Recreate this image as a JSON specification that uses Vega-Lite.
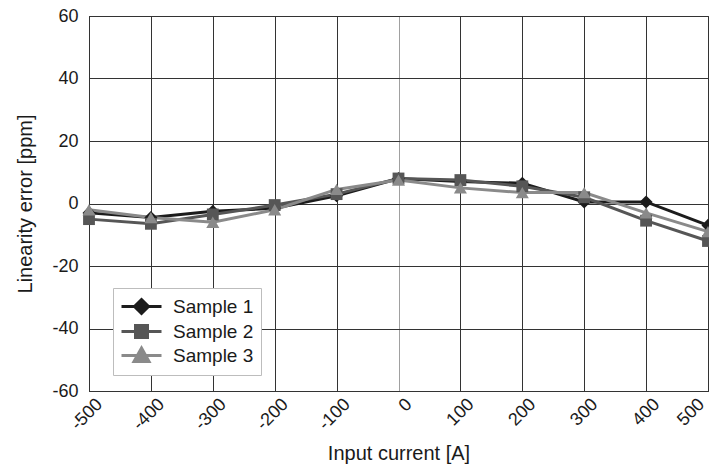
{
  "$schema": "https://vega.github.io/schema/vega-lite/v6.json",
  "autosize": "none",
  "width": 619,
  "height": 375,
  "padding": {"left": 89, "top": 16, "right": 1, "bottom": 77},
  "background": "white",
  "config": {
    "font": "Liberation Sans",
    "view": {"stroke": "#333333", "strokeWidth": 1}
  },
  "data": {
    "values": [
      {"current": -500, "error": -3, "sample": "Sample 1"},
      {"current": -400, "error": -4.5, "sample": "Sample 1"},
      {"current": -300, "error": -2.5, "sample": "Sample 1"},
      {"current": -200, "error": -1.5, "sample": "Sample 1"},
      {"current": -100, "error": 2.5, "sample": "Sample 1"},
      {"current": 0, "error": 8, "sample": "Sample 1"},
      {"current": 100, "error": 7, "sample": "Sample 1"},
      {"current": 200, "error": 6.5, "sample": "Sample 1"},
      {"current": 300, "error": 0.5, "sample": "Sample 1"},
      {"current": 400, "error": 0.5, "sample": "Sample 1"},
      {"current": 500, "error": -7, "sample": "Sample 1"},
      {"current": -500, "error": -5, "sample": "Sample 2"},
      {"current": -400, "error": -6.5, "sample": "Sample 2"},
      {"current": -300, "error": -3.5, "sample": "Sample 2"},
      {"current": -200, "error": -0.5, "sample": "Sample 2"},
      {"current": -100, "error": 3, "sample": "Sample 2"},
      {"current": 0, "error": 8, "sample": "Sample 2"},
      {"current": 100, "error": 7.5, "sample": "Sample 2"},
      {"current": 200, "error": 5.5, "sample": "Sample 2"},
      {"current": 300, "error": 2, "sample": "Sample 2"},
      {"current": 400, "error": -5.5, "sample": "Sample 2"},
      {"current": 500, "error": -12, "sample": "Sample 2"},
      {"current": -500, "error": -2, "sample": "Sample 3"},
      {"current": -400, "error": -4.5, "sample": "Sample 3"},
      {"current": -300, "error": -6, "sample": "Sample 3"},
      {"current": -200, "error": -2, "sample": "Sample 3"},
      {"current": -100, "error": 4.5, "sample": "Sample 3"},
      {"current": 0, "error": 7.5, "sample": "Sample 3"},
      {"current": 100, "error": 5, "sample": "Sample 3"},
      {"current": 200, "error": 3.5, "sample": "Sample 3"},
      {"current": 300, "error": 3.5, "sample": "Sample 3"},
      {"current": 400, "error": -3, "sample": "Sample 3"},
      {"current": 500, "error": -9, "sample": "Sample 3"}
    ]
  },
  "encoding": {
    "x": {
      "field": "current",
      "type": "quantitative",
      "scale": {"domain": [-500, 500], "nice": false},
      "axis": {
        "title": "Input current [A]",
        "values": [-500, -400, -300, -200, -100, 0, 100, 200, 300, 400, 500],
        "labelExpr": "replace(datum.label, '\u2212', '-')",
        "labelAngle": -45,
        "labelAlign": "right",
        "labelBaseline": "top",
        "labelPadding": 4,
        "labelOffset": {"condition": {"test": "datum.value === 500", "value": -13}, "value": 4},
        "labelFontSize": 18,
        "labelColor": "#1a1a1a",
        "labelOverlap": false,
        "labelFlush": false,
        "labelBound": false,
        "ticks": false,
        "domainColor": "#333333",
        "grid": true,
        "gridColor": {"condition": {"test": "datum.value === 0", "value": "#a0a0a0"}, "value": "#333333"},
        "gridOpacity": 1,
        "titleFontSize": 20,
        "titleFontWeight": "normal",
        "titleColor": "#1a1a1a",
        "titlePadding": 10
      }
    },
    "y": {
      "field": "error",
      "type": "quantitative",
      "scale": {"domain": [-60, 60], "nice": false},
      "axis": {
        "title": "Linearity error [ppm]",
        "values": [-60, -40, -20, 0, 20, 40, 60],
        "labelExpr": "replace(datum.label, '\u2212', '-')",
        "labelFontSize": 18,
        "labelColor": "#1a1a1a",
        "labelPadding": 11,
        "ticks": false,
        "domainColor": "#333333",
        "grid": true,
        "gridColor": "#333333",
        "gridOpacity": 1,
        "titleFontSize": 20,
        "titleFontWeight": "normal",
        "titleColor": "#1a1a1a",
        "titlePadding": 16
      }
    },
    "color": {
      "field": "sample",
      "type": "nominal",
      "scale": {"domain": ["Sample 1", "Sample 2", "Sample 3"], "range": ["#1c1c1c", "#565656", "#8a8a8a"]},
      "legend": {
        "title": null,
        "orient": "none",
        "legendX": 24,
        "legendY": 272,
        "padding": 7,
        "strokeColor": "#bdbdbd",
        "fillColor": "white",
        "symbolType": "circle",
        "symbolSize": 400,
        "symbolStrokeWidth": 3,
        "labelFontSize": 19,
        "labelColor": "#1a1a1a",
        "labelOffset": 30,
        "rowPadding": -4,
        "encode": {
          "symbols": {
            "update": {
              "shape": {"signal": "datum.value === 'Sample 1' ? 'M-1,0H3M1,-0.7L1.7,0L1,0.7L0.3,0Z' : datum.value === 'Sample 2' ? 'M-1,0H3M0.4,-0.6H1.6V0.6H0.4Z' : 'M-1,0H3M1,-0.75L1.75,0.6H0.25Z'"},
              "stroke": {"signal": "datum.value === 'Sample 1' ? '#1c1c1c' : datum.value === 'Sample 2' ? '#565656' : '#8a8a8a'"},
              "fill": {"signal": "datum.value === 'Sample 1' ? '#1c1c1c' : datum.value === 'Sample 2' ? '#565656' : '#8a8a8a'"},
              "strokeWidth": {"value": 3},
              "opacity": {"value": 1},
              "fillOpacity": {"value": 1},
              "strokeOpacity": {"value": 1}
            }
          }
        }
      }
    }
  },
  "layer": [
    {
      "mark": {"type": "line", "strokeWidth": 3}
    },
    {
      "transform": [{"filter": "datum.sample === 'Sample 1'"}],
      "mark": {"type": "point", "filled": true, "opacity": 1, "size": 170, "shape": "diamond"}
    },
    {
      "transform": [{"filter": "datum.sample === 'Sample 2'"}],
      "mark": {"type": "point", "filled": true, "opacity": 1, "size": 140, "shape": "square"}
    },
    {
      "transform": [{"filter": "datum.sample === 'Sample 3'"}],
      "mark": {"type": "point", "filled": true, "opacity": 1, "size": 170, "shape": "triangle-up"}
    }
  ]
}
